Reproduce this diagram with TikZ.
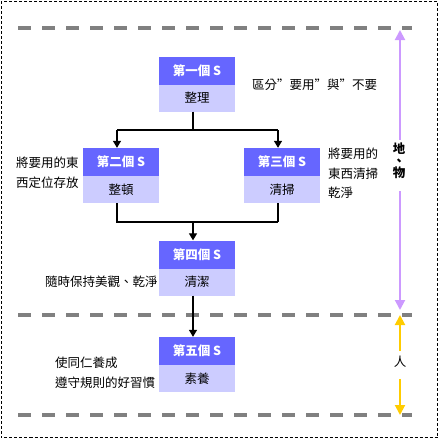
\documentclass[tikz,border=0pt]{standalone}
\usepackage{fontspec}
\setmainfont{Noto Sans CJK TC}
\usetikzlibrary{arrows.meta}
\definecolor{dk}{HTML}{6666FF}
\definecolor{lt}{HTML}{CCCCFF}
\definecolor{gr}{HTML}{808080}
\definecolor{pu}{HTML}{CC99FF}
\definecolor{ye}{HTML}{FFCC00}
\tikzset{
  frame/.style={draw=black, line width=1pt, dash pattern=on 3pt off 2pt},
  gline/.style={draw=gr, line width=3.5pt, dash pattern=on 13pt off 11pt},
  tbox/.style={fill=dk, text=white, font=\fontsize{12.5}{14}\selectfont\bfseries, minimum width=76pt, minimum height=28pt, inner sep=0pt},
  bbox/.style={fill=lt, text=black, minimum width=76pt, minimum height=27pt, inner sep=0pt},
  conn/.style={draw=black, line width=1.3pt},
  carr/.style={conn, -{Triangle[width=8pt,length=7pt]}},
  parr/.style={draw=pu, line width=2pt, -{Triangle[width=10pt,length=10pt]}},
  yarr/.style={draw=ye, line width=2pt, -{Triangle[width=10pt,length=10pt]}},
  note/.style={inner sep=0pt, anchor=west, align=left}
}
\begin{document}
\begin{tikzpicture}[x=1pt,y=-1pt,font=\fontsize{12.5}{14}\selectfont]
\useasboundingbox (0,0) rectangle (439,439);
\draw[frame] (1,1) rectangle (437.5,437.5);
% gray dashed lines
\coordinate (g1a) at (18,28); \coordinate (g1b) at (412,28);
\coordinate (g2a) at (18,315); \coordinate (g2b) at (412,315);
\coordinate (g3a) at (18,415); \coordinate (g3b) at (412,415);
\draw[gline] (g1a) -- (g1b);
\draw[gline] (g2a) -- (g2b);
\draw[gline] (g3a) -- (g3b);
% boxes
\node[tbox] (b1t) at (197,70.5) {第一個 S};
\node[bbox] (b1b) at (197,98) {整理};
\node[tbox] (b2t) at (121,162) {第二個 S};
\node[bbox] (b2b) at (121,189.5) {整頓};
\node[tbox] (b3t) at (282,162) {第三個 S};
\node[bbox] (b3b) at (282,189.5) {清掃};
\node[tbox] (b4t) at (197,254.5) {第四個 S};
\node[bbox] (b4b) at (197,282) {清潔};
\node[tbox] (b5t) at (197,351) {第五個 S};
\node[bbox] (b5b) at (197,378.5) {素養};
% connectors
\coordinate (j1) at (193,130); \coordinate (j1l) at (117,130); \coordinate (j1r) at (278,130);
\coordinate (j2) at (193,222); \coordinate (j2l) at (117,222); \coordinate (j2r) at (278,222);
\draw[conn] ([xshift=-4pt]b1b.south) -- (j1);
\draw[conn] (j1l) -- (j1r);
\draw[carr] (j1l) -- ([xshift=-4pt]b2t.north);
\draw[carr] (j1r) -- ([xshift=-4pt]b3t.north);
\draw[conn] ([xshift=-4pt]b2b.south) -- (j2l) -- (j2r);
\draw[conn] ([xshift=-4pt]b3b.south) -- (j2r);
\draw[carr] (j2) -- ([xshift=-4pt]b4t.north);
\draw[carr] ([xshift=-4pt]b4b.south) -- ([xshift=-4pt]b5t.north);
% notes
\node[note] (n1) at (252,85) {區分”要用”與”不要};
\node[note, font=\fontsize{12.5}{20}\selectfont] (n2) at (16,173) {將要用的東\\西定位存放};
\node[note, font=\fontsize{12.5}{19.5}\selectfont] (n3) at (328,173.5) {將要用的\\東西清掃\\乾淨};
\node[note] (n4) at (45,282) {隨時保持美觀、乾淨};
\node[note, font=\fontsize{12.5}{20}\selectfont] (n5) at (55,373) {使同仁養成\\遵守規則的好習慣};
% side arrows
\node[inner sep=0pt, align=center, font=\fontsize{12.5}{12}\selectfont\bfseries] (di) at (399,161) {地\\、\\物};
\coordinate (pt) at (400,30); \coordinate (pb) at (400,310);
\draw[parr, shorten <=3pt] (di.north -| pt) -- (pt);
\draw[parr, shorten <=12pt] (di.south -| pb) -- (pb);
\node[inner sep=0pt] (ren) at (400,362) {人};
\coordinate (yt) at (400,315); \coordinate (yb) at (400,415);
\draw[yarr, shorten <=5pt] (ren.north -| yt) -- (yt);
\draw[yarr, shorten <=11pt] (ren.south -| yb) -- (yb);
\end{tikzpicture}
\end{document}
